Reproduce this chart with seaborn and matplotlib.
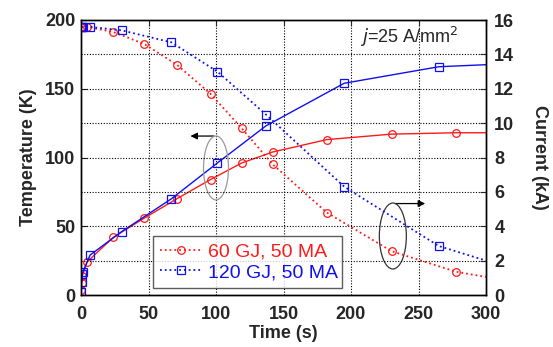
import matplotlib
matplotlib.use("Agg")
import matplotlib.pyplot as plt
import seaborn as sns
import numpy as np
from matplotlib.patches import Ellipse

# ---- data ----
t_60 = [0, 0.5, 1.0, 4.4, 24, 47, 71, 96, 119, 142, 182, 230, 278, 300]
T_60 = [4, 9, 14, 24, 42, 56, 70, 84, 96, 104, 113, 117, 118, 118]
I_60 = [15.6, 15.6, 15.6, 15.6, 15.3, 14.6, 13.4, 11.7, 9.7, 7.6, 4.8, 2.55, 1.35, 1.05]

t_120 = [0, 0.5, 1.0, 1.5, 6.7, 30, 67, 101, 137, 195, 265, 300]
T_120 = [2, 9.5, 15, 17, 29, 46, 70, 96, 123, 154, 166, 167.5]
I_120 = [15.6, 15.6, 15.6, 15.6, 15.6, 15.4, 14.7, 13.0, 10.5, 6.3, 2.85, 2.0]

label_60 = "60 GJ, 50 MA"
label_120 = "120 GJ, 50 MA"
x_ticks = [0, 50, 100, 150, 200, 250, 300]
T_ticks = [0, 50, 100, 150, 200]
I_ticks = [0, 2, 4, 6, 8, 10, 12, 14, 16]

RED = "#ff1a1a"
BLUE = "#1010ee"

sns.set_style("white")
plt.rcParams['font.family'] = ['Liberation Sans', 'DejaVu Sans']

fig = plt.figure(figsize=(5.53, 3.47), dpi=100)
ax = fig.add_axes([81/553, 52/347, 405/553, 275/347])
ax2 = ax.twinx()

mk = dict(markerfacecolor='none', markersize=5.5, markeredgewidth=0.9)

# temperature (solid)
sns.lineplot(x=t_60, y=T_60, ax=ax, color=RED, lw=1.0, marker='o',
             markevery=list(range(len(t_60) - 1)), markeredgecolor=RED, **mk)
sns.lineplot(x=t_120, y=T_120, ax=ax, color=BLUE, lw=1.0, marker='s',
             markevery=list(range(len(t_120) - 1)), markeredgecolor=BLUE, **mk)

# current (dotted)
sns.lineplot(x=t_60, y=I_60, ax=ax2, color=RED, lw=1.3, ls=':', marker='o',
             markevery=list(range(len(t_60) - 1)), markeredgecolor=RED,
             label=label_60, **mk)
sns.lineplot(x=t_120, y=I_120, ax=ax2, color=BLUE, lw=1.3, ls=':', marker='s',
             markevery=list(range(len(t_120) - 1)), markeredgecolor=BLUE,
             label=label_120, **mk)

ax.set_xlim(0, 300)
ax.set_ylim(0, 200)
ax2.set_ylim(0, 16)
ax.set_xticks(x_ticks)
ax.set_yticks(T_ticks)
ax2.set_yticks(I_ticks)

tick_font = dict(fontsize=13, fontweight='bold')
ax.set_xticklabels([str(v) for v in x_ticks], **tick_font)
ax.set_yticklabels([str(v) for v in T_ticks], **tick_font)
ax2.set_yticklabels([str(v) for v in I_ticks], **tick_font)

ax.tick_params(axis='x', direction='in', length=4, width=0.8, top=True, pad=8)
ax.tick_params(axis='y', direction='in', length=4, width=0.8, pad=4)
ax2.tick_params(direction='in', length=4, width=0.8, pad=6)

# grid
for v in x_ticks[1:-1]:
    ax.axvline(v, color='black', ls=(0, (1, 1.5)), lw=0.8, zorder=0)
for v in I_ticks[1:-1]:
    ax2.axhline(v, color='black', ls=(0, (1, 1.5)), lw=0.8, zorder=0)

for a in (ax, ax2):
    for s in a.spines.values():
        s.set_color('black')
        s.set_linewidth(1.0)

ax.set_xlabel("Time (s)", fontsize=13, fontweight='bold', labelpad=1)
ax.set_ylabel("Temperature (K)", fontsize=13, fontweight='bold', labelpad=6)
ax2.set_ylabel("Current (kA)", fontsize=13, fontweight='bold', rotation=270, labelpad=24)

leg = ax2.legend(loc='lower left', bbox_to_anchor=(72/405, 7/275, 189/405, 51/275),
                 mode='expand', frameon=True, fancybox=False, fontsize=14,
                 handlelength=2.2, handletextpad=0.3, borderpad=0.35,
                 labelspacing=0.15, borderaxespad=0)
leg.get_frame().set_edgecolor('#333333')
leg.get_frame().set_linewidth(1.0)
for txt, c in zip(leg.get_texts(), [RED, BLUE]):
    txt.set_color(c)

# annotations
ax.add_patch(Ellipse((100, 92.4), 18.5, 46.5, fill=False, edgecolor='#999999', lw=0.9, zorder=5))
ax.annotate("", xy=(79, 115.6), xytext=(100.5, 115.6),
            arrowprops=dict(arrowstyle='-|>', color='black', lw=0.9, mutation_scale=10))
ax.add_patch(Ellipse((231, 42.9), 20, 48, fill=False, edgecolor='#333333', lw=0.9, zorder=5))
ax.annotate("", xy=(257, 66.5), xytext=(231, 66.5),
            arrowprops=dict(arrowstyle='-|>', color='black', lw=0.9, mutation_scale=10))

ax.text(207, 188, r"$j$=25 A/mm$^2$", fontsize=13, ha='left', va='center')

fig.savefig("out.png", dpi=100)
